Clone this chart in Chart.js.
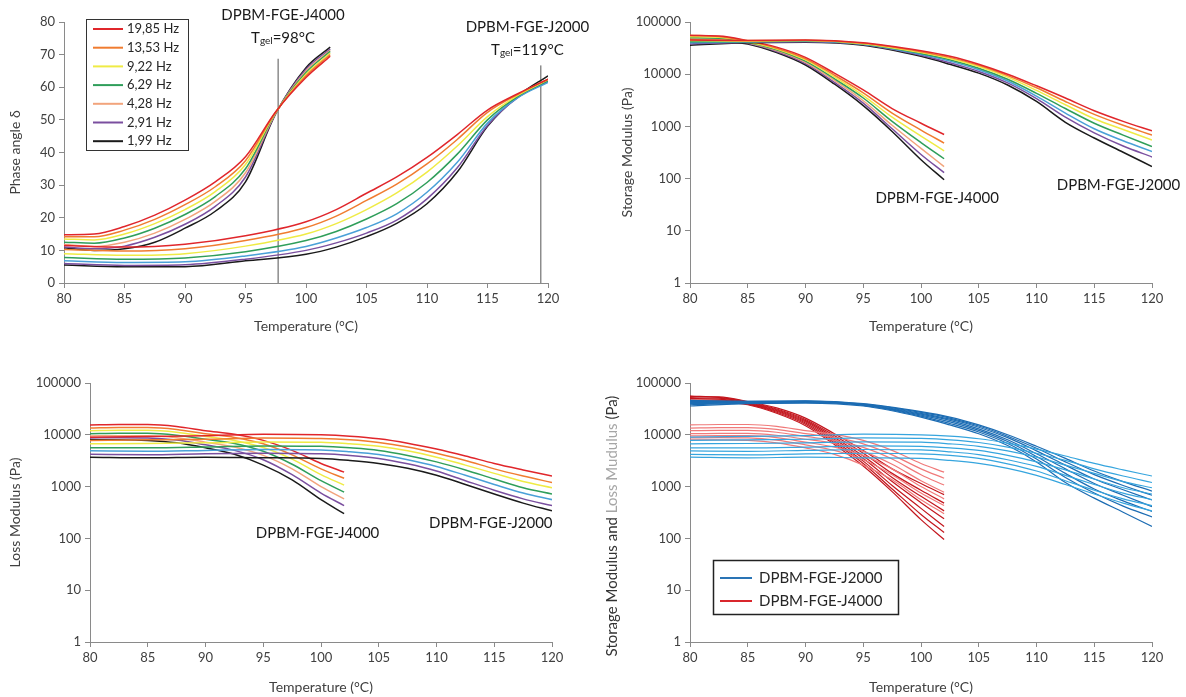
<!DOCTYPE html>
<html>
<head>
<meta charset="utf-8">
<script src="https://cdn.jsdelivr.net/npm/chart.js@4.4.0/dist/chart.umd.min.js"></script>
<style>
  body { margin: 0; background: #fff; width: 1186px; height: 697px; position: relative; overflow: hidden; }
  canvas { position: absolute; }
</style>
</head>
<body>
<canvas id="c1" width="593" height="336" style="left:0;top:0"></canvas>
<canvas id="c2" width="593" height="336" style="left:593px;top:0"></canvas>
<canvas id="c3" width="593" height="348" style="left:0;top:349px"></canvas>
<canvas id="c4" width="593" height="348" style="left:593px;top:349px"></canvas>
<script>
// ---- data ----
const freqLabels = ['19,85 Hz', '13,53 Hz', '9,22 Hz', '6,29 Hz', '4,28 Hz', '2,91 Hz', '1,99 Hz'];
const colorsJ4000 = ['#e0262b', '#f07c30', '#efeb45', '#2f9e5a', '#f2a47c', '#7a4f9f', '#1a1a1a'];
const colorsJ2000 = ['#e0262b', '#f07c30', '#efeb45', '#2f9e5a', '#4aa0d8', '#7a4f9f', '#1a1a1a'];

const tempTicks = [80, 85, 90, 95, 100, 105, 110, 115, 120];
const phaseTicks = [0, 10, 20, 30, 40, 50, 60, 70, 80];
const modulusTicks = [1, 10, 100, 1000, 10000, 100000];

const tempsJ4000 = [80, 82.5, 85, 87.5, 90, 92.5, 95, 97.5, 100, 102];
const tempsJ2000 = [80, 85, 90, 95, 100, 102.5, 105, 107.5, 110, 112.5, 115, 117.5, 120];

// phase angle, one row per frequency (19,85 Hz first)
const phaseJ4000 = [
  [14.8, 15.0, 17.3, 20.8, 25.4, 31.0, 38.7, 52.5, 63.0, 69.5],
  [14.2, 14.2, 16.2, 19.5, 24.0, 29.5, 37.5, 52.4, 63.5, 70.0],
  [13.5, 13.2, 15.0, 18.2, 22.5, 28.0, 36.3, 52.3, 64.0, 70.5],
  [12.5, 12.2, 13.8, 16.8, 21.0, 26.5, 35.0, 52.2, 64.5, 71.0],
  [11.8, 11.2, 12.5, 15.3, 19.5, 25.0, 33.8, 52.1, 65.0, 71.3],
  [11.0, 10.5, 11.3, 14.0, 18.0, 23.5, 32.5, 52.0, 65.5, 71.7],
  [10.8, 10.0, 10.5, 12.5, 16.8, 22.0, 31.0, 51.9, 66.0, 72.3]
];
const phaseJ2000 = [
  [11.5, 11.0, 11.9, 14.5, 18.8, 22.5, 27.5, 32.5, 38.5, 45.5, 53.0, 58.0, 62.5],
  [10.3, 9.8, 10.5, 13.0, 17.0, 20.5, 25.3, 30.3, 36.5, 44.0, 52.3, 57.8, 62.5],
  [9.0, 8.5, 9.0, 11.3, 15.0, 18.2, 22.5, 27.6, 34.0, 42.0, 51.0, 57.5, 62.3],
  [7.8, 7.3, 7.7, 9.6, 13.0, 15.8, 19.6, 24.3, 30.8, 39.5, 50.0, 57.2, 62.0],
  [6.8, 6.3, 6.5, 8.3, 11.2, 13.8, 17.0, 21.2, 27.8, 37.0, 49.0, 56.8, 61.5],
  [6.0, 5.4, 5.6, 7.3, 10.0, 12.3, 15.3, 19.3, 25.8, 35.3, 48.3, 56.8, 61.8],
  [5.5, 5.0, 5.0, 6.8, 8.8, 11.0, 14.2, 18.3, 24.3, 34.0, 48.0, 57.3, 63.5]
];

// storage modulus G' (Pa)
const storageJ4000 = [
  [55000, 54000, 44000, 33000, 21000, 10500, 5000, 2200, 1150, 700],
  [56000, 53000, 43000, 31500, 19800, 9600, 4400, 1800, 850, 480],
  [52000, 51000, 42000, 30500, 18800, 8900, 3900, 1500, 650, 340],
  [50000, 49000, 41000, 29500, 17800, 8200, 3500, 1250, 490, 240],
  [47000, 47000, 40000, 28500, 16900, 7600, 3100, 1050, 380, 170],
  [44000, 45000, 39000, 27200, 16000, 7000, 2800, 900, 290, 130],
  [42000, 43000, 38000, 26000, 15000, 6500, 2500, 800, 230, 95]
];
const storageJ2000 = [
  [45000, 44000, 45000, 40000, 28000, 22000, 15500, 10000, 6000, 3500, 2000, 1250, 820],
  [46000, 44000, 44500, 39000, 27000, 21000, 14800, 9400, 5500, 3000, 1700, 1050, 680],
  [44000, 43000, 44000, 38500, 26000, 20000, 14000, 8800, 4900, 2600, 1400, 870, 550],
  [42000, 42000, 43500, 38000, 25000, 19000, 13000, 8000, 4300, 2200, 1150, 680, 410],
  [40000, 41500, 43000, 37500, 24000, 17800, 12200, 7400, 3800, 1800, 900, 530, 330],
  [38000, 41000, 42000, 37000, 23000, 16500, 11300, 6800, 3400, 1500, 750, 420, 260],
  [36000, 40000, 41000, 36000, 22000, 15500, 10500, 6200, 3000, 1200, 600, 320, 170]
];

// loss modulus G'' (Pa)
const lossJ4000 = [
  [15500, 15800, 15800, 14500, 12000, 10200, 7800, 5000, 2800, 1900],
  [13500, 13800, 13800, 12700, 10500, 8900, 6700, 4100, 2200, 1450],
  [12000, 12200, 12200, 11200, 9300, 7800, 5700, 3400, 1700, 1070],
  [10500, 10700, 10700, 9800, 8200, 6800, 4800, 2700, 1300, 780],
  [9500, 9600, 9600, 8800, 7200, 5800, 4000, 2200, 1000, 580],
  [8700, 8800, 8700, 7900, 6400, 5000, 3300, 1700, 750, 430],
  [8000, 8000, 7800, 7000, 5600, 4200, 2600, 1350, 560, 300]
];
const lossJ2000 = [
  [9000, 9300, 9600, 10300, 10000, 9400, 8400, 6900, 5300, 3900, 2800, 2100, 1600],
  [7800, 8000, 8200, 8700, 8500, 8000, 7100, 5800, 4400, 3200, 2200, 1600, 1200],
  [6700, 6800, 7000, 7300, 7200, 6700, 6000, 4900, 3700, 2600, 1800, 1250, 950],
  [5600, 5600, 5800, 6100, 6000, 5600, 5000, 4000, 3000, 2100, 1400, 950, 720],
  [4900, 4800, 5000, 5200, 5100, 4700, 4150, 3300, 2450, 1650, 1100, 750, 560],
  [4200, 4100, 4300, 4400, 4300, 4000, 3500, 2750, 2000, 1300, 850, 580, 430],
  [3700, 3600, 3700, 3600, 3500, 3200, 2800, 2250, 1650, 1100, 720, 480, 340]
];

// gel point markers on the phase angle plot
const gelTemps = [97.7, 119.4];
const gelLineTops = [68.7, 66.7];

// ---- styling ----
const FONT = 'Lato, "Open Sans", sans-serif';
const AXIS = '#8a8a8a';
const TXT = '#404040';

function line(temps, values, color, width) {
  return {
    data: temps.map((t, i) => ({ x: t, y: values[i] })),
    borderColor: color,
    borderWidth: width,
    pointRadius: 0,
    fill: false,
    cubicInterpolationMode: 'monotone'
  };
}

function xScale(h, titlePad) {
  return {
    type: 'linear', min: 80, max: 120,
    afterBuildTicks: s => { s.ticks = tempTicks.map(v => ({ value: v })); },
    afterFit: s => { s.height = h; },
    grid: { drawOnChartArea: false, tickLength: 5, color: AXIS },
    border: { color: AXIS },
    ticks: { color: TXT, font: { family: FONT, size: 13 }, padding: 3, maxRotation: 0, autoSkip: false },
    title: { display: true, text: 'Temperature (°C)', color: TXT, font: { family: FONT, size: 14 }, padding: { top: 0, bottom: titlePad } }
  };
}

function yScale(type, vals, w, title, titlePad) {
  return {
    type, min: vals[0], max: vals[vals.length - 1],
    afterBuildTicks: s => { s.ticks = vals.map(v => ({ value: v })); },
    afterFit: s => { s.width = w; },
    grid: { drawOnChartArea: false, tickLength: 5, color: AXIS },
    border: { color: AXIS },
    ticks: { color: TXT, font: { family: FONT, size: 13 }, padding: 4, autoSkip: false, callback: v => String(v) },
    title: { display: !!title, text: title, color: TXT, font: { family: FONT, size: 14 }, padding: { top: titlePad, bottom: 0 } }
  };
}

// free text labels placed in data coordinates; parts may be subscript
const notesPlugin = {
  id: 'notes',
  afterDatasetsDraw(chart, args, opts) {
    const { ctx } = chart;
    const xs = chart.scales.x, ys = chart.scales.y;
    (opts.items || []).forEach(n => {
      const cx = xs.getPixelForValue(n.x), cy = ys.getPixelForValue(n.y);
      const parts = n.parts || [{ text: n.text }];
      ctx.save();
      ctx.fillStyle = '#1a1a1a';
      ctx.textBaseline = 'middle';
      let total = 0;
      parts.forEach(p => {
        ctx.font = (p.sub ? 10 : 15) + 'px ' + FONT;
        p.w = ctx.measureText(p.text).width;
        total += p.w;
      });
      let px = cx - total / 2;
      parts.forEach(p => {
        ctx.font = (p.sub ? 10 : 15) + 'px ' + FONT;
        ctx.fillText(p.text, px, cy + (p.sub ? 3 : 0));
        px += p.w;
      });
      ctx.restore();
    });
  }
};

// boxed legend drawn at a fixed spot of the canvas
const boxLegendPlugin = {
  id: 'boxLegend',
  afterDraw(chart, args, o) {
    if (!o.items) return;
    const { ctx } = chart;
    ctx.save();
    ctx.fillStyle = '#fff';
    ctx.fillRect(o.x, o.y, o.w, o.h);
    ctx.strokeStyle = o.border || '#333';
    ctx.lineWidth = o.borderWidth || 1;
    ctx.strokeRect(o.x + 0.5, o.y + 0.5, o.w, o.h);
    ctx.font = o.size + 'px ' + FONT;
    ctx.textBaseline = 'middle';
    o.items.forEach((it, i) => {
      const yy = o.firstRow + i * o.rowH;
      ctx.strokeStyle = it.color;
      ctx.lineWidth = o.lineWidth || 2;
      ctx.beginPath();
      ctx.moveTo(o.lineX1, yy);
      ctx.lineTo(o.lineX2, yy);
      ctx.stroke();
      ctx.fillStyle = '#262626';
      ctx.fillText(it.label, o.textX, yy);
    });
    ctx.restore();
  }
};

// rotated y title with coloured pieces (panel 4)
const splitTitlePlugin = {
  id: 'splitTitle',
  afterDraw(chart, args, o) {
    if (!o.parts) return;
    const { ctx } = chart;
    ctx.save();
    ctx.font = o.size + 'px ' + FONT;
    ctx.textBaseline = 'middle';
    const widths = o.parts.map(p => ctx.measureText(p.text).width);
    const total = widths.reduce((a, b) => a + b, 0);
    ctx.translate(o.x, o.y);
    ctx.rotate(-Math.PI / 2);
    let px = -total / 2;
    o.parts.forEach((p, i) => {
      ctx.fillStyle = p.color;
      ctx.fillText(p.text, px, 0);
      px += widths[i];
    });
    ctx.restore();
  }
};

function baseOptions(pad, xs, ys) {
  return {
    responsive: false,
    animation: false,
    layout: { padding: pad },
    scales: { x: xs, y: ys },
    plugins: { legend: { display: false }, tooltip: { enabled: false } }
  };
}

const plugins = [notesPlugin, boxLegendPlugin, splitTitlePlugin];

// ---- panel 1: phase angle ----
const phaseSets = [];
phaseJ2000.forEach((v, i) => phaseSets.push(line(tempsJ2000, v, colorsJ2000[i], 1.5)));
phaseJ4000.forEach((v, i) => phaseSets.push(line(tempsJ4000, v, colorsJ4000[i], 1.5)));
gelTemps.forEach((t, i) => phaseSets.push({
  data: [{ x: t, y: 0 }, { x: t, y: gelLineTops[i] }],
  borderColor: '#8c8c8c', borderWidth: 1.5, pointRadius: 0
}));
const opt1 = baseOptions({ left: 0, right: 45, top: 22, bottom: 0 },
  xScale(53, 1), yScale('linear', phaseTicks, 64, 'Phase angle δ', 7));
opt1.plugins.notes = { items: [
  { x: 98.1, y: 82.1, text: 'DPBM-FGE-J4000' },
  { x: 98.1, y: 75.1, parts: [{ text: 'T' }, { text: 'gel', sub: true }, { text: '=98°C' }] },
  { x: 118.3, y: 78.5, text: 'DPBM-FGE-J2000' },
  { x: 118.3, y: 71.4, parts: [{ text: 'T' }, { text: 'gel', sub: true }, { text: '=119°C' }] }
] };
opt1.plugins.boxLegend = {
  x: 86, y: 19, w: 102, h: 131, firstRow: 29, rowH: 18.7,
  lineX1: 93, lineX2: 123, textX: 127, size: 13, lineWidth: 2,
  items: freqLabels.map((l, i) => ({ label: l, color: colorsJ4000[i] }))
};
new Chart(document.getElementById('c1'), { type: 'line', data: { datasets: phaseSets }, options: opt1, plugins });

// ---- panel 2: storage modulus ----
const storageSets = [];
storageJ2000.forEach((v, i) => storageSets.push(line(tempsJ2000, v, colorsJ2000[i], 1.5)));
storageJ4000.forEach((v, i) => storageSets.push(line(tempsJ4000, v, colorsJ4000[i], 1.5)));
const opt2 = baseOptions({ left: 0, right: 34, top: 22, bottom: 0 },
  xScale(53, 1), yScale('logarithmic', modulusTicks, 97, 'Storage Modulus (Pa)', 26));
opt2.plugins.notes = { items: [
  { x: 101.4, y: 42.5, text: 'DPBM-FGE-J4000' },
  { x: 117.1, y: 75.4, text: 'DPBM-FGE-J2000' }
] };
new Chart(document.getElementById('c2'), { type: 'line', data: { datasets: storageSets }, options: opt2, plugins });

// ---- panel 3: loss modulus ----
const lossSets = [];
lossJ2000.forEach((v, i) => lossSets.push(line(tempsJ2000, v, colorsJ2000[i], 1.5)));
lossJ4000.forEach((v, i) => lossSets.push(line(tempsJ4000, v, colorsJ4000[i], 1.5)));
const opt3 = baseOptions({ left: 0, right: 41, top: 34, bottom: 0 },
  xScale(55, 1), yScale('logarithmic', modulusTicks, 90, 'Loss Modulus (Pa)', 7));
opt3.plugins.notes = { items: [
  { x: 99.7, y: 127, text: 'DPBM-FGE-J4000' },
  { x: 114.7, y: 198, text: 'DPBM-FGE-J2000' }
] };
new Chart(document.getElementById('c3'), { type: 'line', data: { datasets: lossSets }, options: opt3, plugins });

// ---- panel 4: both moduli, coloured by material ----
const bothSets = [];
lossJ2000.forEach(v => bothSets.push(line(tempsJ2000, v, '#36a5de', 1.2)));
lossJ4000.forEach(v => bothSets.push(line(tempsJ4000, v, '#f07a7a', 1.2)));
storageJ2000.forEach(v => bothSets.push(line(tempsJ2000, v, '#1c6cb3', 1.2)));
storageJ4000.forEach(v => bothSets.push(line(tempsJ4000, v, '#c3161d', 1.2)));
const opt4 = baseOptions({ left: 0, right: 34, top: 34, bottom: 0 },
  xScale(55, 1), yScale('logarithmic', modulusTicks, 97, '', 0));
opt4.plugins.splitTitle = {
  x: 19, y: 177, size: 15,
  parts: [
    { text: 'Storage Modulus and ', color: '#333333' },
    { text: 'Loss Mudulus', color: '#a6a6a6' },
    { text: ' (Pa)', color: '#333333' }
  ]
};
opt4.plugins.boxLegend = {
  x: 120, y: 211, w: 185, h: 54, firstRow: 229, rowH: 23,
  lineX1: 127, lineX2: 159, textX: 166, size: 15, lineWidth: 2, borderWidth: 1.5, border: '#222',
  items: [
    { label: 'DPBM-FGE-J2000', color: '#2a74b5' },
    { label: 'DPBM-FGE-J4000', color: '#d9262c' }
  ]
};
new Chart(document.getElementById('c4'), { type: 'line', data: { datasets: bothSets }, options: opt4, plugins });
</script>
</body>
</html>
